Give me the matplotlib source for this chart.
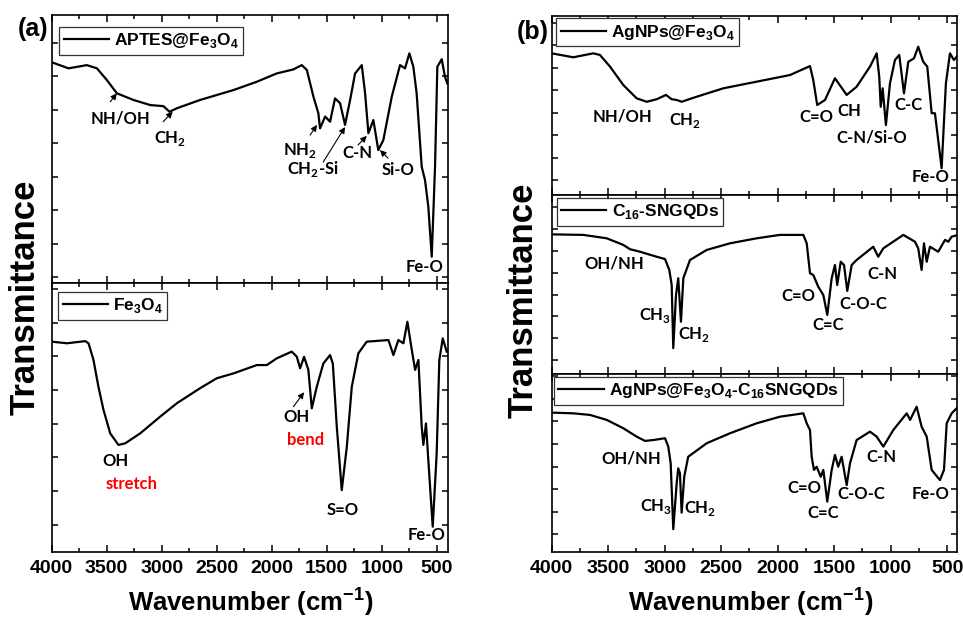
import matplotlib
matplotlib.use('Agg')
import matplotlib.pyplot as plt
import numpy as np
from matplotlib.ticker import MultipleLocator

plt.rcParams['font.family'] = 'Liberation Sans'
plt.rcParams['mathtext.fontset'] = 'custom'
plt.rcParams['mathtext.rm'] = 'Liberation Sans'
plt.rcParams['mathtext.bf'] = 'Liberation Sans:bold'
plt.rcParams['mathtext.sf'] = 'Lato:bold'

# ---- data (wavenumber cm-1, transmittance a.u., 0-100 of each panel) ----
aptes_w = [4000, 3846, 3679, 3588, 3497, 3407, 3256, 3104, 2984, 2929, 2862, 2651, 2348, 2136,
           1955, 1804, 1728, 1682, 1622, 1577, 1562, 1516, 1471, 1426, 1380, 1335, 1289, 1244,
           1183, 1153, 1123, 1078, 1033, 987, 911, 836, 790, 751, 715, 685, 639, 609, 579, 548,
           518, 497, 457, 428, 407]
aptes_t = [82.4, 80.1, 81.3, 80.1, 75.7, 70.8, 68.3, 66.4, 66.0, 63.9, 65.2, 68.3, 72.0, 75.1,
           78.2, 79.7, 81.3, 79.5, 69.5, 63.3, 57.7, 62.1, 60.2, 68.9, 67.1, 59.0, 68.3, 78.2,
           81.3, 70.8, 55.9, 60.8, 49.6, 53.4, 69.5, 81.3, 80.1, 85.7, 80.7, 70.8, 43.4, 38.4,
           28.5, 9.8, 43.4, 80.7, 83.5, 77.0, 74.5]

fe3o4_w = [4000, 3860, 3694, 3664, 3619, 3574, 3528, 3467, 3392, 3331, 3195, 3014, 2862, 2651,
           2499, 2348, 2136, 2045, 1955, 1819, 1773, 1743, 1707, 1668, 1637, 1592, 1532, 1471,
           1446, 1410, 1365, 1319, 1274, 1214, 1138, 941, 896, 851, 805, 769, 729, 699, 669,
           639, 624, 600, 579, 539, 503, 479, 448, 412]
fe3o4_t = [78.2, 77.6, 78.4, 77.6, 71.4, 61.4, 52.8, 44.1, 39.8, 40.4, 44.1, 50.3, 55.3, 60.9,
           64.6, 66.4, 69.5, 69.5, 72.0, 74.5, 72.6, 68.3, 72.6, 67.7, 53.4, 61.4, 70.1, 73.2,
           70.1, 46.6, 23.0, 39.1, 61.4, 73.9, 78.2, 78.8, 73.2, 78.8, 77.6, 85.6, 75.1, 67.7,
           71.4, 46.6, 39.8, 47.8, 34.2, 9.4, 36.7, 71.4, 79.4, 74.5]

ag_w = [4000, 3809, 3632, 3573, 3484, 3366, 3248, 3159, 3071, 2988, 2938, 2894, 2850, 2717,
        2481, 2186, 1891, 1714, 1685, 1650, 1581, 1493, 1389, 1301, 1183, 1124, 1101, 1088,
        1071, 1042, 1006, 962, 924, 882, 844, 794, 756, 712, 676, 637, 608, 549, 511, 475,
        440, 402]
ag_t = [79.0, 76.8, 79.0, 78.1, 71.6, 61.3, 53.9, 52.0, 53.4, 55.8, 53.4, 53.0, 52.0, 54.8,
        59.5, 63.2, 66.9, 71.9, 64.1, 50.2, 53.0, 65.1, 55.8, 60.4, 71.6, 79.0, 66.0, 49.2,
        59.5, 39.0, 62.3, 75.3, 78.1, 56.7, 74.3, 76.2, 82.7, 74.3, 71.6, 45.6, 45.6, 14.9,
        62.3, 79.0, 75.3, 78.1]

gqd_w = [4000, 3720, 3513, 3366, 3307, 3219, 3071, 2997, 2959, 2938, 2924, 2900, 2880, 2856,
         2835, 2776, 2628, 2422, 2186, 1980, 1773, 1743, 1714, 1685, 1641, 1596, 1561, 1522,
         1493, 1473, 1442, 1413, 1384, 1345, 1301, 1154, 1110, 1065, 888, 785, 756, 726, 705,
         681, 652, 579, 519, 490, 460, 402]
gqd_t = [78.0, 77.7, 75.8, 72.1, 69.7, 68.3, 65.5, 64.2, 58.1, 49.7, 14.4, 44.1, 53.5, 29.2,
         53.5, 63.7, 69.3, 73.0, 75.8, 77.7, 77.7, 73.0, 56.3, 55.3, 48.8, 44.1, 33.0, 53.5,
         60.9, 49.7, 62.7, 60.9, 46.4, 60.9, 63.7, 71.1, 65.5, 70.2, 77.7, 73.9, 70.2, 58.1,
         73.0, 62.7, 71.1, 68.3, 74.9, 73.9, 76.7, 77.7]

comp_w = [4000, 3809, 3661, 3513, 3366, 3248, 3174, 3101, 2997, 2968, 2947, 2924, 2894, 2880,
          2865, 2850, 2827, 2792, 2628, 2422, 2186, 1980, 1773, 1743, 1714, 1699, 1679, 1655,
          1619, 1596, 1561, 1522, 1493, 1464, 1434, 1389, 1360, 1301, 1183, 1124, 1065, 977,
          858, 828, 770, 726, 681, 637, 564, 528, 504, 460, 402]
comp_t = [78.3, 77.9, 77.0, 74.2, 69.5, 64.8, 62.4, 62.9, 63.9, 59.2, 49.8, 12.8, 38.6, 47.0,
          44.2, 22.1, 42.3, 53.5, 61.1, 66.7, 72.3, 76.0, 77.9, 72.3, 68.5, 53.5, 46.1, 47.9,
          42.3, 46.1, 28.3, 46.1, 54.5, 47.9, 53.5, 37.6, 49.8, 62.9, 67.6, 64.8, 59.2, 68.5,
          77.9, 74.2, 81.6, 70.4, 64.8, 46.1, 40.4, 46.1, 72.3, 77.9, 81.6]

# labels: (text, x, y, arrow tail, arrow head)
aptes_notes = [('NH/OH', 3377, 61.4, (3467, 67.6), (3407, 70.8)),
               ('CH$_\\mathsf{2}$', 2923, 54.1, (2986, 60.2), (2900, 63.9)),
               ('NH$_\\mathsf{2}$', 1743, 49.6, (1652, 55.2), (1590, 59.0)),
               ('CH$_\\mathsf{2}$-Si', 1625, 42.5, (1534, 45.1), (1335, 58.2)),
               ('C-N', 1226, 48.5, (1217, 51.5), (1138, 54.9)),
               ('Si-O', 854, 42.2, (945, 46.6), (1018, 49.6)),
               ('Fe-O', 609, 6.0, None, None)]
fe3o4_notes = [('OH', 3421, 33.8, None, None),
               ('OH', 1780, 50.2, (1804, 54.0), (1707, 59.4)),
               ('S=O', 1353, 15.6, None, None),
               ('Fe-O', 591, 6.3, None, None)]
ag_notes = [('NH/OH', 3369, 43.5), ('CH$_\\mathsf{2}$', 2820, 41.8), ('C=O', 1661, 43.5),
            ('CH', 1369, 46.8), ('C-N/Si-O', 1165, 31.8), ('C-C', 838, 50.2), ('Fe-O', 643, 10.0)]
gqd_notes = [('OH/NH', 3449, 61.5), ('CH$_\\mathsf{3}$', 3085, 32.4), ('CH$_\\mathsf{2}$', 2740, 21.8),
             ('C=O', 1820, 43.6), ('C=C', 1555, 27.4), ('C-O-C', 1245, 39.1), ('C-N', 1077, 55.9)]
comp_notes = [('OH/NH', 3297, 52.8), ('CH$_\\mathsf{3}$', 3076, 25.8), ('CH$_\\mathsf{2}$', 2687, 24.7),
              ('C=O', 1767, 36.0), ('C=C', 1599, 21.9), ('C-O-C', 1263, 32.6), ('C-N', 1086, 53.4),
              ('Fe-O', 643, 32.6)]
red_notes = [('stretch', 3277, 25.3), ('bend', 1698, 41.6)]

NOTE_FONT = dict(family='Lato', fontweight='bold', fontsize=12, ha='center', va='center')


def style_axis(ax, xright, yticks, show_labels):
    ax.set_xlim(4000, xright)
    ax.set_ylim(0, 100)
    ax.xaxis.set_major_locator(MultipleLocator(500))
    ax.xaxis.set_minor_locator(MultipleLocator(250))
    ax.set_yticks(yticks)
    ax.tick_params(axis='both', which='both', direction='in', top=True, right=True,
                   width=1.1, labelleft=False)
    ax.tick_params(axis='x', which='major', length=5)
    ax.tick_params(axis='x', which='minor', length=3)
    ax.tick_params(axis='y', length=4)
    ax.tick_params(axis='x', labelbottom=show_labels, labelsize=14, pad=6)
    for lab in ax.get_xticklabels():
        lab.set_fontweight('bold')
    for s in ax.spines.values():
        s.set_linewidth(1.2)


def add_legend(ax, label, dx, dy):
    leg = ax.legend([ax.lines[0]], [label], loc='upper left', bbox_to_anchor=(dx, dy),
                    borderaxespad=0, fancybox=False, edgecolor='#333333', framealpha=1,
                    handlelength=2.6, handletextpad=0.3, borderpad=0.25,
                    prop=dict(family='Liberation Sans', weight='bold', size=12.5))
    leg.get_frame().set_linewidth(0.9)


def add_notes(ax, notes):
    for n in notes:
        ax.text(n[1], n[2], n[0], **NOTE_FONT)
        if len(n) > 3 and n[3] is not None:
            ax.annotate('', xy=n[4], xytext=n[3],
                        arrowprops=dict(arrowstyle='-|>', color='black', lw=0.8,
                                        mutation_scale=9, shrinkA=0, shrinkB=0))


fig = plt.figure(figsize=(9.63, 6.2), dpi=100)

ax1 = fig.add_axes([0.0535, 0.5435, 0.4114, 0.4323])
ax2 = fig.add_axes([0.0535, 0.1097, 0.4114, 0.4338])
ax3 = fig.add_axes([0.5729, 0.6855, 0.4212, 0.2892])
ax4 = fig.add_axes([0.5729, 0.3968, 0.4212, 0.2887])
ax5 = fig.add_axes([0.5729, 0.1097, 0.4212, 0.2871])

ax1.plot(aptes_w, aptes_t, color='black', lw=1.6)
ax2.plot(fe3o4_w, fe3o4_t, color='black', lw=1.6)
ax3.plot(ag_w, ag_t, color='black', lw=1.6)
ax4.plot(gqd_w, gqd_t, color='black', lw=1.6)
ax5.plot(comp_w, comp_t, color='black', lw=1.6)

style_axis(ax1, 403, np.arange(2.2, 100, 12.5), False)
style_axis(ax2, 403, np.arange(10.2, 100, 12.5), True)
style_axis(ax3, 410, np.arange(8.4, 100, 12.5), False)
style_axis(ax4, 410, np.arange(7.8, 100, 12.2), False)
style_axis(ax5, 410, np.arange(9.9, 100, 12.7), True)

add_legend(ax1, 'APTES@Fe$_\\mathbf{3}$O$_\\mathbf{4}$', 0.02, 0.955)
add_legend(ax2, 'Fe$_\\mathbf{3}$O$_\\mathbf{4}$', 0.017, 0.967)
add_legend(ax3, 'AgNPs@Fe$_\\mathbf{3}$O$_\\mathbf{4}$', 0.011, 0.985)
add_legend(ax4, 'C$_\\mathbf{16}$-SNGQDs', 0.013, 0.983)
add_legend(ax5, 'AgNPs@Fe$_\\mathbf{3}$O$_\\mathbf{4}$-C$_\\mathbf{16}$SNGQDs', 0.006, 0.983)

add_notes(ax1, aptes_notes)
add_notes(ax2, fe3o4_notes)
add_notes(ax3, ag_notes)
add_notes(ax4, gqd_notes)
add_notes(ax5, comp_notes)
for txt, x, y in red_notes:
    ax2.text(x, y, txt, color='#ff0000', **NOTE_FONT)

fig.text(0.034, 0.953, '(a)', fontsize=18, fontweight='bold', ha='center', va='center')
fig.text(0.553, 0.948, '(b)', fontsize=18, fontweight='bold', ha='center', va='center')
fig.text(0.026, 0.52, 'Transmittance', rotation=90, fontsize=25, fontweight='bold',
         ha='center', va='center')
fig.text(0.543, 0.515, 'Transmittance', rotation=90, fontsize=25, fontweight='bold',
         ha='center', va='center')
fig.text(0.26, 0.03, 'Wavenumber (cm$^\\mathbf{-1}$)', fontsize=18.5, fontweight='bold',
         ha='center', va='center')
fig.text(0.78, 0.03, 'Wavenumber (cm$^\\mathbf{-1}$)', fontsize=18.5, fontweight='bold',
         ha='center', va='center')

fig.savefig('out.png', dpi=100)
